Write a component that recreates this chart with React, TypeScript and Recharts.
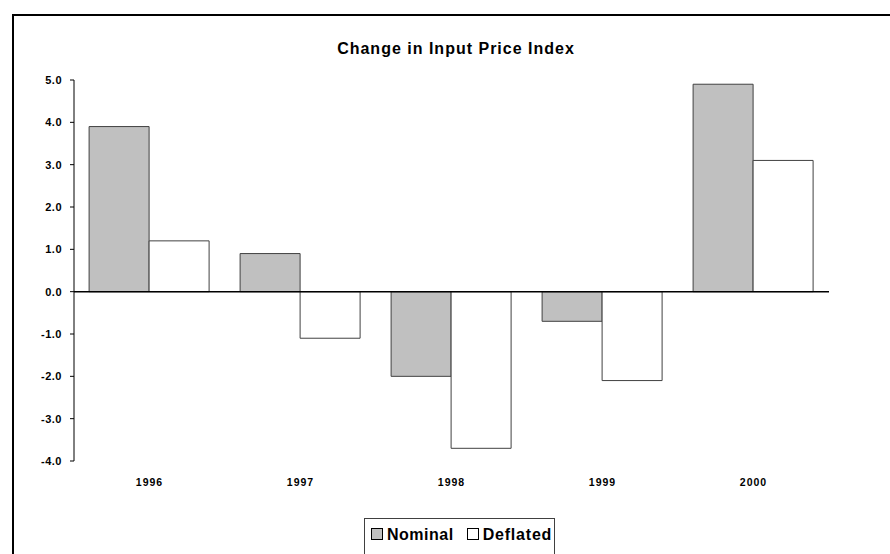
import { Bar, BarChart, ReferenceLine, XAxis, YAxis } from "recharts";

const years = ["1996", "1997", "1998", "1999", "2000"];
const nominal = [3.9, 0.9, -2.0, -0.7, 4.9];
const deflated = [1.2, -1.1, -3.7, -2.1, 3.1];
const yTicks = [-4, -3, -2, -1, 0, 1, 2, 3, 4, 5];

const data = years.map((year, i) => ({ year, nominal: nominal[i], deflated: deflated[i] }));

const font = "Arial, 'Liberation Sans', Helvetica, sans-serif";

const LegendSwatch = ({ fill }: { fill: string }) => (
  <span style={{ display: "inline-block", width: 10, height: 10, background: fill, border: "1px solid #000", marginRight: 4 }} />
);

export default function App() {
  return (
    <div style={{ position: "absolute", left: 0, top: 0, width: 890, height: 554, overflow: "hidden", background: "#fff", fontFamily: font }}>
      <div style={{ position: "absolute", left: 12, top: 14, width: 900, height: 600, borderLeft: "2px solid #000", borderTop: "2px solid #000" }} />
      <div style={{ position: "absolute", left: 0, width: 912, top: 40, textAlign: "center", fontSize: 16, fontWeight: "bold", letterSpacing: 1, color: "#000" }}>
        Change in Input Price Index
      </div>
      <BarChart
        width={890}
        height={554}
        data={data}
        margin={{ top: 80, right: 61, bottom: 0, left: 0 }}
        barCategoryGap="10%"
        barGap={0}
        style={{ position: "absolute", left: 0, top: 0 }}
      >
        <XAxis
          dataKey="year"
          axisLine={false}
          tickLine={false}
          height={93}
          tickMargin={12}
          tick={{ fill: "#000", fontSize: 10.5, fontWeight: "bold", fontFamily: font, letterSpacing: 1 }}
        />
        <YAxis
          width={74}
          domain={[-4, 5]}
          ticks={yTicks}
          interval={0}
          tickFormatter={(v: number) => v.toFixed(1)}
          axisLine={{ stroke: "#000" }}
          tickLine={{ stroke: "#000" }}
          tickSize={4}
          tickMargin={8}
          tick={{ fill: "#000", fontSize: 11, fontWeight: "bold", fontFamily: font, letterSpacing: 0.5 }}
        />
        <Bar dataKey="nominal" fill="#C0C0C0" stroke="#404040" strokeWidth={1} isAnimationActive={false} />
        <Bar dataKey="deflated" fill="#FFFFFF" stroke="#404040" strokeWidth={1} isAnimationActive={false} />
        <ReferenceLine y={0} stroke="#000" strokeWidth={1.5} />
      </BarChart>
      <div
        style={{
          position: "absolute",
          left: 364,
          top: 518,
          width: 191,
          height: 50,
          border: "1px solid #404040",
          boxSizing: "border-box",
          paddingLeft: 6,
          paddingTop: 7,
          fontSize: 16,
          fontWeight: "bold",
          letterSpacing: 0.5,
          color: "#000",
          whiteSpace: "nowrap",
        }}
      >
        <LegendSwatch fill="#C0C0C0" />
        <span style={{ marginRight: 13 }}>Nominal</span>
        <LegendSwatch fill="#FFFFFF" />
        <span style={{ letterSpacing: 0.8 }}>Deflated</span>
      </div>
    </div>
  );
}
